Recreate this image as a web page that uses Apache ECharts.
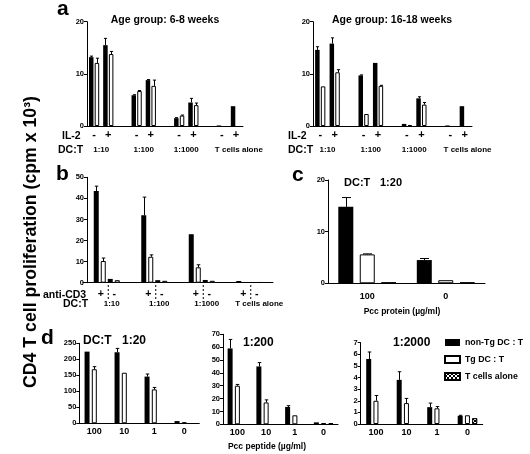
<!DOCTYPE html>
<html><head><meta charset="utf-8">
<script src="https://cdn.jsdelivr.net/npm/echarts@6/dist/echarts.min.js"></script>
<style>html,body{margin:0;padding:0;background:#fff}#c{width:530px;height:454px}</style>
</head><body><div id="c"></div>
<script>
// ---------------- DATA ----------------
// panel a : DC:T ratio groups x IL-2 (-, +)
const aGroups = ['1:10', '1:100', '1:1000', 'T cells alone'];
const il2Signs = ['-', '+'];
const aYoungNonTg    = [13.2, 15.5, 5.9, 8.8, 1.5, 4.5, 0.1, 3.8];
const aYoungNonTgErr = [0.2, 1.3, 0.1, 0.1, 0.1, 0.8, 0, 0];
const aYoungTg       = [12.1, 13.8, 6.7, 7.7, 2.0, 4.0, null, null];
const aYoungTgErr    = [0.9, 0.5, 0.1, 1.1, 0.1, 0.4, 0, 0];
const aOldNonTg      = [14.6, 15.8, 9.7, 12.1, 0.4, 5.3, 0.1, 3.8];
const aOldNonTgErr   = [0.6, 1.1, 0.1, 0, 0, 0.3, 0, 0];
const aOldTg         = [7.6, 10.3, 2.3, 7.7, 0.2, 4.1, null, null];
const aOldTgErr      = [0, 0.5, 0, 0.1, 0, 0.4, 0, 0];
// panel b : anti-CD3 + / -
const bGroups = ['1:10', '1:100', '1:1000', 'T cells alone'];
const bNonTgPlus     = [43.5, 32, 23, 0.8];
const bNonTgPlusErr  = [2.3, 8.6, 0, 0];
const bTgPlus        = [10.3, 12.3, 7.3, 0.2];
const bTgPlusErr     = [1.4, 0.9, 1.2, 0];
const bNonTgMinus    = [1.8, 1.2, 1.3, 0.2];
const bTgMinus       = [1.2, 0.9, 0.9, 0.2];
// panel c : Pcc protein (ug/ml)
const cDoses = ['100', '0'];
const cNonTg    = [14.8, 4.5];
const cNonTgErr = [1.8, 0.3];
const cTg       = [5.6, 0.6];
const cTgErr    = [0.1, 0];
const cTalone   = [0.1, 0.1];
// panel d : Pcc peptide (ug/ml)
const dDoses = ['100', '10', '1', '0'];
const d1NonTg = [224, 222, 146, 7];   const d1NonTgErr = [0, 12, 8, 0];
const d1Tg    = [169, 158, 106, 3];   const d1TgErr    = [8, 0, 6, 0];
const d1Talone = [null, null, null, null];
const d2NonTg = [59, 45, 13.5, 1.5];  const d2NonTgErr = [7, 3, 1, 0];
const d2Tg    = [30, 17, 7, 1];       const d2TgErr    = [1, 2, 0, 0];
const d2Talone = [null, null, null, 0.8];
const d3NonTg = [5.6, 3.8, 1.45, 0.7]; const d3NonTgErr = [0.6, 0.7, 0.35, 0.05];
const d3Tg    = [2.0, 1.8, 1.35, 0.75]; const d3TgErr   = [0.45, 0.4, 0.15, 0];
const d3Talone = [null, null, null, 0.5];
const seriesNames = ['non-Tg DC : T', 'Tg DC : T', 'T cells alone'];

// ---------------- STYLE / LAYOUT ----------------
const F = '"Liberation Sans", Arial, Helvetica, sans-serif';
const BLACK = {color: '#000'};
const WHITE = {color: '#fff', borderColor: '#000', borderWidth: 1};
const CHECK = {color: '#fff', borderColor: '#000', borderWidth: 1,
  decal: {symbol: 'rect', symbolSize: 1, color: '#000', backgroundColor: '#fff',
          dashArrayX: [[2, 2], [0, 2, 2, 0]], dashArrayY: [2, 0]}};

const grids = [], xAxes = [], yAxes = [], series = [];
function panel(cfg) {
  const gi = grids.length;
  grids.push({left: cfg.box[0], top: cfg.box[1], width: cfg.box[2], height: cfg.box[3], containLabel: false});
  xAxes.push({type: 'category', gridIndex: gi, data: cfg.cats,
    axisLine: {show: true, onZero: false, lineStyle: {color: '#000', width: 1}},
    axisTick: {show: false},
    axisLabel: Object.assign({show: !!cfg.xLabel, fontFamily: F, fontWeight: 'bold', color: '#000', interval: 0}, cfg.xLabel || {}),
    splitLine: {show: false}});
  yAxes.push({type: 'value', gridIndex: gi, min: 0, max: cfg.yMax, interval: cfg.yStep, offset: cfg.yOffset || 0,
    axisLine: {show: true, lineStyle: {color: '#000', width: 1}},
    axisTick: {show: true, length: 3, lineStyle: {color: '#000'}},
    axisLabel: {fontFamily: F, fontWeight: 'bold', fontSize: cfg.yFont || 7.5, color: '#000', margin: cfg.yMargin || 3},
    splitLine: {show: false}});
  const n = cfg.series.length, w = cfg.barW, g = cfg.barW * cfg.gap;
  cfg.series.forEach((s, i) => {
    series.push({type: 'bar', name: s.name, xAxisIndex: gi, yAxisIndex: gi, data: s.data,
      barWidth: w, barGap: (cfg.gap * 100) + '%', itemStyle: s.style, animation: false, silent: true, z: 2});
    if (s.err) {
      const off = -(n * w + (n - 1) * g) / 2 + w / 2 + i * (w + g);
      const pts = [];
      s.data.forEach((v, j) => { if (v != null && s.err[j] > 0) pts.push([j, v, s.err[j]]); });
      const cw = cfg.capW || Math.max(3, w * 0.7);
      series.push({type: 'custom', xAxisIndex: gi, yAxisIndex: gi, data: pts, encode: {x: 0, y: 1},
        z: 3, silent: true, animation: false,
        renderItem: (p, api) => {
          const a = api.coord([api.value(0), api.value(1)]);
          const b = api.coord([api.value(0), api.value(1) + api.value(2)]);
          const cx = Math.round(a[0] + off) + 0.5;
          return {type: 'group', children: [
            {type: 'line', shape: {x1: cx, y1: a[1], x2: cx, y2: b[1]}, style: {stroke: '#000', lineWidth: 1}},
            {type: 'line', shape: {x1: cx - cw / 2, y1: b[1], x2: cx + cw / 2, y2: b[1]}, style: {stroke: '#000', lineWidth: 1}}
          ]};
        }});
    }
  });
  return gi;
}

// panel a: categories with spacer slots between ratio groups
function slotCats(groups, signs) {
  const c = [];
  groups.forEach((g, k) => { signs.forEach(s => c.push(g + ' ' + s)); if (k < groups.length - 1) c.push('gap' + k); });
  return c;
}
function slotVals(vals) {
  const out = [];
  aGroups.forEach((g, k) => { out.push(vals[2 * k], vals[2 * k + 1]); if (k < aGroups.length - 1) out.push(null); });
  return out;
}
const aCats = slotCats(aGroups, il2Signs);
const aXLabel = {fontSize: 11, margin: 3, formatter: v => v.startsWith('gap') ? '' : v.slice(-1)};

const gA1 = panel({box: [87, 21.7, 156, 104.3], cats: aCats, xLabel: aXLabel, yMax: 20, yStep: 10, barW: 4.5, gap: 0.27,
  series: [{name: seriesNames[0], data: slotVals(aYoungNonTg), err: slotVals(aYoungNonTgErr), style: BLACK},
           {name: seriesNames[1], data: slotVals(aYoungTg), err: slotVals(aYoungTgErr), style: WHITE}]});
const gA2 = panel({box: [313, 21.7, 159, 104.3], cats: aCats, xLabel: aXLabel, yMax: 20, yStep: 10, barW: 4.5, gap: 0.27,
  series: [{name: seriesNames[0], data: slotVals(aOldNonTg), err: slotVals(aOldNonTgErr), style: BLACK},
           {name: seriesNames[1], data: slotVals(aOldTg), err: slotVals(aOldTgErr), style: WHITE}]});
const gB = panel({box: [83, 177.3, 190, 105.4], cats: bGroups, yMax: 50, yStep: 10, yOffset: -4, barW: 5, gap: 0.4,
  series: [{name: seriesNames[0], data: bNonTgPlus, err: bNonTgPlusErr, style: BLACK},
           {name: seriesNames[1], data: bTgPlus, err: bTgPlusErr, style: WHITE},
           {name: seriesNames[0], data: bNonTgMinus, style: BLACK},
           {name: seriesNames[1], data: bTgMinus, style: WHITE}]});
const gC = panel({box: [328, 180, 157, 103.3], cats: cDoses, xLabel: {fontSize: 9, margin: 9}, yMax: 20, yStep: 10, barW: 15, gap: 0.43, capW: 9,
  series: [{name: seriesNames[0], data: cNonTg, err: cNonTgErr, style: BLACK},
           {name: seriesNames[1], data: cTg, err: cTgErr, style: WHITE},
           {name: seriesNames[2], data: cTalone, style: CHECK}]});
const dXL = {fontSize: 9, margin: 4};
const gD1 = panel({box: [79.3, 343.3, 120, 80], cats: dDoses, xLabel: dXL, yMax: 250, yStep: 50, barW: 5, gap: 0.45,
  series: [{name: seriesNames[0], data: d1NonTg, err: d1NonTgErr, style: BLACK},
           {name: seriesNames[1], data: d1Tg, err: d1TgErr, style: WHITE},
           {name: seriesNames[2], data: d1Talone, style: CHECK}]});
const gD2 = panel({box: [223, 334.3, 115, 90], cats: dDoses, xLabel: dXL, yMax: 70, yStep: 10, barW: 5, gap: 0.45,
  series: [{name: seriesNames[0], data: d2NonTg, err: d2NonTgErr, style: BLACK},
           {name: seriesNames[1], data: d2Tg, err: d2TgErr, style: WHITE},
           {name: seriesNames[2], data: d2Talone, style: CHECK}]});
const gD3 = panel({box: [360.7, 342.7, 122, 81.3], cats: dDoses, xLabel: dXL, yMax: 7, yStep: 1, barW: 5, gap: 0.45,
  series: [{name: seriesNames[0], data: d3NonTg, err: d3NonTgErr, style: BLACK},
           {name: seriesNames[1], data: d3Tg, err: d3TgErr, style: WHITE},
           {name: seriesNames[2], data: d3Talone, style: CHECK}]});

const chart = echarts.init(document.getElementById('c'));
chart.setOption({
  animation: false,
  backgroundColor: '#fff',
  grid: grids, xAxis: xAxes, yAxis: yAxes, series: series,
  legend: {left: 444, top: 338, orient: 'vertical', itemWidth: 15, itemHeight: 7, itemGap: 8, icon: 'rect',
    selectedMode: false, data: seriesNames, padding: 0,
    textStyle: {fontFamily: F, fontWeight: 'bold', fontSize: 8.8, color: '#000'}}
});

// ---------------- TEXT / ANNOTATIONS ----------------
const gfx = [];
function txt(x, y, s, size, align, extra) {
  gfx.push(Object.assign({type: 'text', x: x, y: y, silent: true, style: {text: s, fontFamily: F, fontWeight: 'bold', fontSize: size, fill: '#000',
    textAlign: align || 'left', align: align || 'left', textVerticalAlign: 'middle', verticalAlign: 'middle'}}, extra || {}));
}
const px = (gi, cat) => chart.convertToPixel({xAxisIndex: gi}, cat);

// y title
txt(31, 242, 'CD4 T cell proliferation (cpm x 10\u00B3)', 17.7, 'center', {rotation: Math.PI / 2});
// panel letters
txt(57, 9, 'a', 21); txt(56, 174, 'b', 21); txt(292, 175, 'c', 21); txt(41, 338, 'd', 21);
// panel a
txt(165, 20, 'Age group: 6-8 weeks', 10.5, 'center');
txt(392, 20, 'Age group: 16-18 weeks', 10.5, 'center');
[[gA1, 62, 58], [gA2, 288, 288]].forEach(([gi, xIL, xDC]) => {
  txt(xIL, 136, 'IL-2', 10.5);
  txt(xDC, 150, 'DC:T', 10.5);
  aGroups.forEach((g, k) => {
    const c = (px(gi, g + ' -') + px(gi, g + ' +')) / 2;
    if (k === aGroups.length - 1) txt(c - 14, 150, g, 8);
    else txt(c, 150, g, 8, 'center');
  });
});
// panel b
txt(43, 295, 'anti-CD3', 10.5);
txt(63, 304, 'DC:T', 10.5);
bGroups.forEach((g, k) => {
  const c = px(gB, g);
  txt(c - 6, 294, '+', 10.5, 'center');
  txt(c + 7.5, 294, '-', 10.5, 'center');
  gfx.push({type: 'line', silent: true, shape: {x1: c + 1.5, y1: 285, x2: c + 1.5, y2: 299},
    style: {stroke: '#000', lineWidth: 1, lineDash: [2, 2]}});
  if (k === bGroups.length - 1) txt(c - 14, 304, g, 8);
  else txt(c + 5, 304, g, 8, 'center');
});
// panel c
txt(344, 183, 'DC:T', 11); txt(380, 183, '1:20', 11);
txt(402, 312, 'Pcc protein (\u00B5g/ml)', 8.5, 'center');
// panel d
txt(83, 341, 'DC:T', 12); txt(122, 341, '1:20', 12);
txt(243, 343, '1:200', 12);
txt(393, 343, '1:2000', 12);
txt(267, 447, 'Pcc peptide (\u00B5g/ml)', 8.5, 'center');
chart.setOption({graphic: {elements: gfx}});
</script></body></html>
